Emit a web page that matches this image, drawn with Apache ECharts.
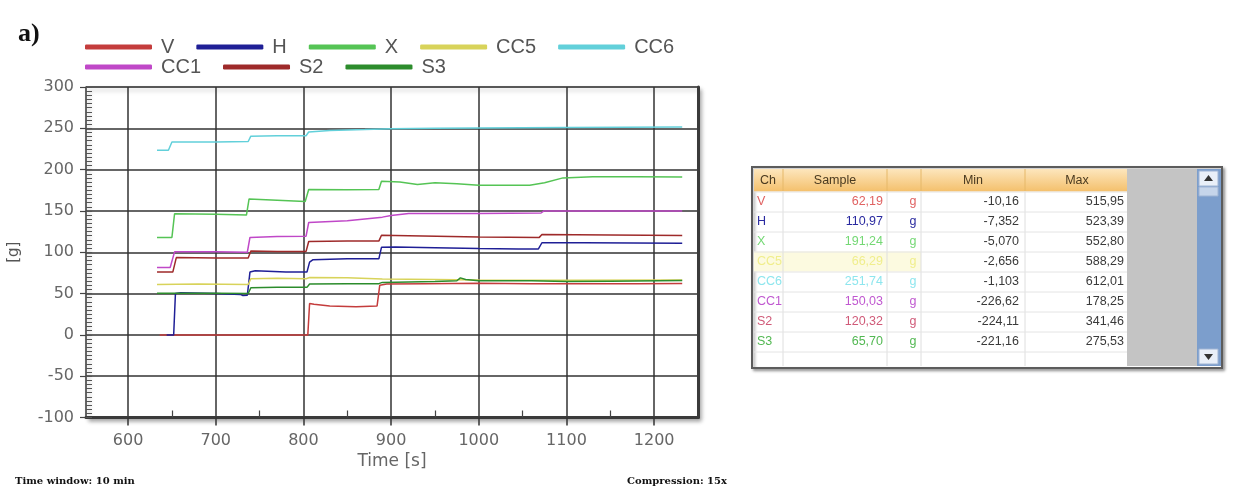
<!DOCTYPE html>
<html><head><meta charset="utf-8">
<script src="https://cdn.jsdelivr.net/npm/echarts@6/dist/echarts.min.js"></script>
<style>html,body{margin:0;padding:0;background:#fff}#c{width:1243px;height:488px}</style>
</head><body><div id="c"></div>
<script>
// ---- data ----
const seriesNames = ['V','H','X','CC5','CC6','CC1','S2','S3'];
const seriesColors = ['#c43c3c','#1f1f96','#55c455','#d8d35a','#62d0da','#c048c8','#9e2a2a','#2c8c2c'];
const xTicks = [600,700,800,900,1000,1100,1200];
const xMinorTicks = [650,750,850,950,1050,1150];
const dataV = [[636,0],[700,0],[760,0],[805,0],[807,38],[812,37],[830,35],[860,34],[884,35],[887,60],[895,61.5],[940,62],[1000,62.5],[1060,62],[1120,62],[1180,62],[1232,62.2]];
const dataH = [[644,0],[652,0],[654,50],[660,51],[700,50],[728,49],[731,47.5],[736,48],[739,76],[745,77.5],[780,76],[804,76],[807,88],[811,91],[850,92],[886,92],[889,106],[905,106.5],[950,105.5],[1000,104.5],[1045,104],[1068,104],[1072,111.5],[1120,111.5],[1232,111]];
const dataX = [[633,118],[650,118],[653,146.5],[700,146],[735,145],[738,164.5],[770,163],[802,161.5],[806,176],[850,175.5],[886,176],[889,186],[910,185],[930,182],[950,184],[975,183],[1000,181],[1058,181],[1075,184],[1096,190],[1130,191.5],[1180,191.5],[1232,191.2]];
const dataCC5 = [[633,61],[680,61.5],[737,61],[740,68],[770,68.5],[803,68],[807,69.5],[850,69],[890,67.5],[950,67],[1000,66.5],[1100,66],[1232,66.3]];
const dataCC6 = [[633,223.5],[646,223.5],[650,233.5],[700,233.5],[737,234],[740,240.5],[770,241],[803,241],[806,245.5],[830,247.5],[870,248.5],[900,249.5],[950,250],[1000,250.5],[1100,251],[1232,251.7]];
const dataCC1 = [[633,81.5],[648,81.5],[653,100.5],[700,100.5],[736,100],[739,118],[770,119],[803,119.5],[806,136],[850,138],[890,142.5],[900,144.5],[920,147],[1000,147],[1071,147.5],[1074,149.8],[1150,150],[1232,150]];
const dataS2 = [[633,76],[651,76],[655,93.5],[700,93],[737,93],[740,101.5],[770,101],[803,101],[806,113],[850,113.5],[886,113.5],[889,120.5],[920,120],[1000,118.5],[1069,118],[1072,121.5],[1150,121],[1232,120.3]];
const dataS3 = [[633,50.5],[700,50.5],[737,50],[740,57],[770,57.5],[804,57.5],[807,61.5],[850,62],[886,62],[890,63.5],[950,64.5],[975,65.5],[979,69],[985,67],[1000,65.5],[1060,65.5],[1100,64.5],[1150,65],[1232,65.7]];
const seriesData = [dataV,dataH,dataX,dataCC5,dataCC6,dataCC1,dataS2,dataS3];

// table
const tableHeaders = ['Ch','Sample','','Min','Max'];
const tableCh = ['V','H','X','CC5','CC6','CC1','S2','S3'];
const tableSample = ['62,19','110,97','191,24','66,29','251,74','150,03','120,32','65,70'];
const tableUnit = ['g','g','g','g','g','g','g','g'];
const tableMin = ['-10,16','-7,352','-5,070','-2,656','-1,103','-226,62','-224,11','-221,16'];
const tableMax = ['515,95','523,39','552,80','588,29','612,01','178,25','341,46','275,53'];
const tableTextColors = ['#e06262','#2a2aa0','#74d874','#f0ee8c','#8ee6ee','#c058d0','#d05a78','#52b852'];

// ---- chart ----
const chart = echarts.init(document.getElementById('c'), null, {renderer:'canvas'});

const T = {x0:752, y0:167, w:470, h:201};
const colX = [754,783,887,921,1025,1127];
const rowTop = 191.5, rowH = 20;
const g = [];
g.push({type:'text', x:18, y:34, style:{text:'a)', font:'bold 26px "Liberation Serif"', fill:'#111', verticalAlign:'middle', textVerticalAlign:'middle'}});
g.push({type:'text', x:15, y:481, style:{text:'Time window: 10 min', font:'bold 10px "DejaVu Serif"', fill:'#111', verticalAlign:'middle', textVerticalAlign:'middle'}});
g.push({type:'text', x:727, y:481, style:{text:'Compression: 15x', font:'bold 10px "DejaVu Serif"', fill:'#111', align:'right', textAlign:'right', verticalAlign:'middle', textVerticalAlign:'middle'}});
// table frame
g.push({type:'rect', shape:{x:T.x0,y:T.y0,width:T.w,height:T.h}, style:{fill:'#fff', stroke:'#5c5c5c', lineWidth:2, shadowBlur:3, shadowOffsetX:2, shadowOffsetY:2, shadowColor:'rgba(0,0,0,0.35)'}});
g.push({type:'rect', shape:{x:754,y:169,width:373,height:22.5}, style:{fill:new echarts.graphic.LinearGradient(0,0,0,1,[{offset:0,color:'#fde6bd'},{offset:1,color:'#f4c06c'}])}});
g.push({type:'rect', shape:{x:754,y:rowTop+3*rowH,width:167,height:rowH}, style:{fill:'#fcfae0'}});
g.push({type:'rect', shape:{x:1127,y:169,width:70,height:197}, style:{fill:'#c4c4c4'}});
g.push({type:'rect', shape:{x:1197,y:169,width:24,height:197}, style:{fill:'#7c9ecc'}});
g.push({type:'rect', shape:{x:1199,y:171,width:19,height:15}, style:{fill:'#e9eff8', stroke:'#9fb4d4', lineWidth:1}});
g.push({type:'polygon', shape:{points:[[1204,181],[1213,181],[1208.5,175]]}, style:{fill:'#333'}});
g.push({type:'rect', shape:{x:1199,y:187,width:19,height:9}, style:{fill:'#c6d5ea', stroke:'#9fb4d4', lineWidth:1}});
g.push({type:'rect', shape:{x:1199,y:349,width:19,height:15}, style:{fill:'#e9eff8', stroke:'#9fb4d4', lineWidth:1}});
g.push({type:'polygon', shape:{points:[[1204,354],[1213,354],[1208.5,360]]}, style:{fill:'#333'}});
for (let i=1;i<colX.length-1;i++){
  g.push({type:'line', shape:{x1:colX[i],y1:169,x2:colX[i],y2:191}, style:{stroke:'#e6b868', lineWidth:1}});
  g.push({type:'line', shape:{x1:colX[i],y1:191.5,x2:colX[i],y2:366}, style:{stroke:'#dedede', lineWidth:1}});
}
for (let r=0;r<=8;r++){
  g.push({type:'line', shape:{x1:754,y1:rowTop+r*rowH+0.5,x2:1127,y2:rowTop+r*rowH+0.5}, style:{stroke:'#e4e4e4', lineWidth:1}});
}
const hdrFont = '12.5px "Liberation Sans"';
const hdrPos = [[760,'left'],[835,'center'],[904,'center'],[973,'center'],[1077,'center']];
tableHeaders.forEach((h,i)=>{ if(!h) return;
  g.push({type:'text', x:hdrPos[i][0], y:180.5, style:{text:h, font:hdrFont, fill:'#4a3a20', align:hdrPos[i][1], textAlign:hdrPos[i][1], verticalAlign:'middle', textVerticalAlign:'middle'}});
});
const cellFont = '12.5px "Liberation Sans"';
tableCh.forEach((ch,i)=>{
  const y = rowTop + i*rowH + 10.5;
  const c = tableTextColors[i];
  g.push({type:'text', x:757, y:y, style:{text:ch, font:cellFont, fill:c, verticalAlign:'middle', textVerticalAlign:'middle'}});
  g.push({type:'text', x:883, y:y, style:{text:tableSample[i], font:cellFont, fill:c, align:'right', textAlign:'right', verticalAlign:'middle', textVerticalAlign:'middle'}});
  g.push({type:'text', x:913, y:y, style:{text:tableUnit[i], font:cellFont, fill:c, align:'center', textAlign:'center', verticalAlign:'middle', textVerticalAlign:'middle'}});
  g.push({type:'text', x:1019, y:y, style:{text:tableMin[i], font:cellFont, fill:'#3a3a3a', align:'right', textAlign:'right', verticalAlign:'middle', textVerticalAlign:'middle'}});
  g.push({type:'text', x:1124, y:y, style:{text:tableMax[i], font:cellFont, fill:'#3a3a3a', align:'right', textAlign:'right', verticalAlign:'middle', textVerticalAlign:'middle'}});
});

const axisFont = {color:'#666', fontSize:16, fontFamily:'DejaVu Sans'};
const legendBase = {left:85, padding:0, itemWidth:67, itemHeight:5, itemGap:22, icon:'roundRect', selectedMode:false,
  textStyle:{fontSize:20, color:'#555', fontFamily:'Liberation Sans', padding:[0,0,0,4]}};

const option = {
  animation:false,
  backgroundColor:'#fff',
  grid:{left:86, right:545, top:87, bottom:70.5, show:true, backgroundColor:'#fff', borderColor:'#9a9a9a', borderWidth:1,
    shadowColor:'rgba(0,0,0,0.35)', shadowBlur:4, shadowOffsetX:3, shadowOffsetY:3},
  legend:[
    Object.assign({}, legendBase, {top:37, data:seriesNames.slice(0,5)}),
    Object.assign({}, legendBase, {top:57, data:seriesNames.slice(5)})
  ],
  xAxis:[
    {type:'value', min:552, max:1250, position:'bottom',
     axisLine:{show:true, onZero:false, lineStyle:{color:'#3a3a3a', width:3}},
     axisTick:{show:true, inside:false, length:8, customValues:xTicks, lineStyle:{color:'#333', width:1.5}},
     axisLabel:Object.assign({customValues:xTicks, margin:15, formatter:v=>String(v)}, axisFont),
     splitLine:{show:true, lineStyle:{color:'#333', width:1.5}},
     name:'Time [s]', nameLocation:'middle', nameGap:35, nameTextStyle:{color:'#666', fontSize:17, fontFamily:'DejaVu Sans'}},
    {type:'value', min:552, max:1250, position:'bottom',
     axisLine:{show:false, onZero:false}, axisTick:{show:true, inside:true, length:7, customValues:xMinorTicks, lineStyle:{color:'#444', width:1.2}},
     axisLabel:{show:false}, splitLine:{show:false}}
  ],
  yAxis:[
    {type:'value', min:-100, max:300, interval:50, position:'left',
     axisLine:{show:true, onZero:false, lineStyle:{color:'#444', width:1.5}},
     axisTick:{show:true, inside:false, length:6, lineStyle:{color:'#444', width:1.2}},
     axisLabel:Object.assign({margin:12}, axisFont),
     splitLine:{show:true, lineStyle:{color:'#333', width:1.5}},
     name:'[g]', nameLocation:'middle', nameRotate:90, nameGap:64, nameTextStyle:{color:'#555', fontSize:15, fontFamily:'DejaVu Sans'}},
    {type:'value', min:-100, max:300, interval:5, position:'left',
     axisLine:{show:false, onZero:false}, axisTick:{show:true, inside:true, length:6, lineStyle:{color:'#555', width:1}},
     axisLabel:{show:false}, splitLine:{show:false}},
    {type:'value', min:-100, max:300, interval:50, position:'right',
     axisLine:{show:true, onZero:false, lineStyle:{color:'#3a3a3a', width:3}},
     axisTick:{show:false}, axisLabel:{show:false}, splitLine:{show:false}}
  ],
  series: seriesNames.map((n,i)=>({
    name:n, type:'line', data:seriesData[i], xAxisIndex:0, yAxisIndex:0,
    showSymbol:false, symbol:'none', color:seriesColors[i],
    lineStyle:{width:1.5, color:seriesColors[i]}
  })),
  graphic:g
};
chart.setOption(option);
</script>
</body></html>
